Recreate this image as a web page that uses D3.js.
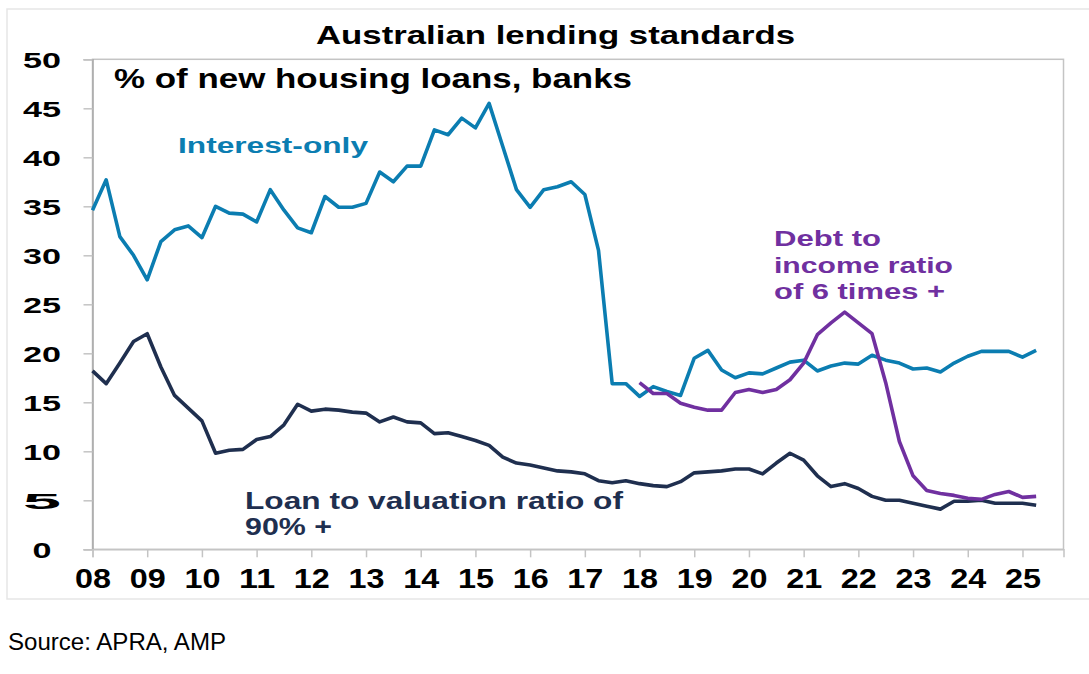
<!DOCTYPE html>
<html>
<head>
<meta charset="utf-8">
<script src="https://cdn.jsdelivr.net/npm/d3@7.9.0/dist/d3.min.js"></script>
<style>
  body { margin: 0; background: #fff; }
  svg { display: block; }
</style>
</head>
<body>
<svg id="chart" width="1089" height="674"></svg>
<script>
// quarterly series, first point = 2008 Q1
const interestOnly = [34.6, 37.7, 31.9, 30.0, 27.5, 31.4, 32.6, 33.0, 31.8, 35.0,
  34.3, 34.2, 33.4, 36.7, 34.6, 32.8, 32.3, 36.0, 34.9, 34.9,
  35.3, 38.5, 37.5, 39.1, 39.1, 42.8, 42.3, 44.0, 43.0, 45.5,
  41.1, 36.7, 34.9, 36.7, 37.0, 37.5, 36.2, 30.5, 16.9, 16.9,
  15.6, 16.6, 16.1, 15.7, 19.5, 20.3, 18.3, 17.5, 18.0, 17.9,
  18.5, 19.1, 19.3, 18.2, 18.7, 19.0, 18.9, 19.8, 19.3, 19.0,
  18.4, 18.5, 18.1, 19.0, 19.7, 20.2, 20.2, 20.2, 19.6, 20.3];

const lvr90 = [18.2, 16.9, 19.0, 21.2, 22.0, 18.6, 15.7, 14.4, 13.1, 9.8,
  10.1, 10.2, 11.2, 11.5, 12.7, 14.8, 14.1, 14.3, 14.2, 14.0,
  13.9, 13.0, 13.5, 13.0, 12.9, 11.8, 11.9, 11.5, 11.1, 10.6,
  9.4, 8.8, 8.6, 8.3, 8.0, 7.9, 7.7, 7.0, 6.8, 7.0,
  6.7, 6.5, 6.4, 6.9, 7.8, 7.9, 8.0, 8.2, 8.2, 7.7,
  8.8, 9.8, 9.1, 7.5, 6.4, 6.7, 6.2, 5.4, 5.0, 5.0,
  4.7, 4.4, 4.1, 4.9, 4.9, 5.0, 4.7, 4.7, 4.7, 4.5];

// debt to income 6x+ starts 2018 Q1 (quarter index 40)
const dtiStart = 40;
const dti6 = [17.0, 15.9, 15.9, 14.9, 14.5, 14.2, 14.2, 16.0, 16.3, 16.0,
  16.3, 17.3, 19.0, 21.9, 23.1, 24.2, 23.1, 22.0, 17.0, 11.0,
  7.5, 6.0, 5.7, 5.5, 5.2, 5.1, 5.6, 5.9, 5.3, 5.4];

const yearLabels = ['08','09','10','11','12','13','14','15','16','17','18','19','20','21','22','23','24','25'];
const yTicks = [0, 5, 10, 15, 20, 25, 30, 35, 40, 45, 50];

const FONT = "'Liberation Sans', Arial, sans-serif";
const C_IO = '#0b7db1', C_DTI = '#7030a0', C_LVR = '#1f2f4f';

const svg = d3.select('#chart');

// outer light frame
svg.append('rect')
  .attr('x', 7).attr('y', 9).attr('width', 1100).attr('height', 590)
  .attr('fill', 'none').attr('stroke', '#e6e6e6').attr('stroke-width', 1.5);

const x = d3.scaleLinear().domain([0, 71]).range([92.5, 1063.5]);
const y = d3.scaleLinear().domain([0, 50]).range([549.3, 59.3]);

// plot frame
svg.append('rect')
  .attr('x', x(0)).attr('y', y(50))
  .attr('width', x(71) - x(0)).attr('height', y(0) - y(50))
  .attr('fill', 'none').attr('stroke', '#c4c4c4').attr('stroke-width', 1.5);

// y axis
const yAxis = svg.append('g')
  .attr('transform', `translate(${x(0)},0)`)
  .call(d3.axisLeft(y).tickValues(yTicks).tickSize(9).tickPadding(30));
yAxis.select('.domain').attr('stroke', '#a8a8a8').attr('stroke-width', 1.5);
yAxis.selectAll('.tick line').attr('stroke', '#c4c4c4').attr('stroke-width', 1.5);
yAxis.selectAll('.tick text')
  .attr('font-family', FONT).attr('font-weight', 'bold').attr('font-size', 22)
  .attr('fill', '#000').attr('text-anchor', 'middle')
  .attr('x', 42 - x(0)).attr('dy', '0.36em')
  .attr('textLength', d => d === 0 ? 19 : 38).attr('lengthAdjust', 'spacingAndGlyphs');

// x axis, one tick per year (Q1)
const yearIdx = yearLabels.map((d, i) => i * 4);
const xAxis = svg.append('g')
  .attr('transform', `translate(0,${y(0)})`)
  .call(d3.axisBottom(x).tickValues(yearIdx).tickSize(8)
    .tickFormat((d, i) => yearLabels[i]));
xAxis.select('.domain').attr('stroke', '#c4c4c4').attr('stroke-width', 1.5);
xAxis.selectAll('.tick line').attr('stroke', '#c4c4c4').attr('stroke-width', 1.5);
xAxis.selectAll('.tick text')
  .attr('font-family', FONT).attr('font-weight', 'bold').attr('font-size', 28)
  .attr('fill', '#000').attr('y', 39).attr('dy', 0)
  .attr('textLength', 36).attr('lengthAdjust', 'spacingAndGlyphs');

// lines
const line = d3.line().x(d => x(d.i)).y(d => y(d.v));
const series = [
  { vals: lvr90, start: 0, color: C_LVR },
  { vals: interestOnly, start: 0, color: C_IO },
  { vals: dti6, start: dtiStart, color: C_DTI }
];
series.forEach(s => {
  svg.append('path')
    .datum(s.vals.map((v, k) => ({ i: s.start + k, v })))
    .attr('fill', 'none')
    .attr('stroke', s.color)
    .attr('stroke-width', 3.6)
    .attr('stroke-linejoin', 'round')
    .attr('d', line);
});

// texts
function label(txt, lx, ly, size, len, color, extra) {
  const t = svg.append('text')
    .attr('x', lx).attr('y', ly)
    .attr('font-family', FONT).attr('font-weight', 'bold')
    .attr('font-size', size).attr('fill', color)
    .attr('textLength', len).attr('lengthAdjust', 'spacingAndGlyphs')
    .text(txt);
  if (extra) t.attr('text-anchor', extra);
  return t;
}

label('Australian lending standards', 316, 44, 25, 479, '#000');
label('% of new housing loans, banks', 114, 88, 27, 518, '#000');
label('Interest-only', 178, 152.5, 22, 190, C_IO);

label('Debt to', 774, 246, 22, 107, C_DTI);
label('income ratio', 774, 273, 22, 179, C_DTI);
label('of 6 times +', 774, 299, 22, 171, C_DTI);

label('Loan to valuation ratio of', 245, 508.5, 23, 378, C_LVR);
label('90% +', 245, 535, 23, 87, C_LVR);

svg.append('text')
  .attr('x', 8).attr('y', 649.5)
  .attr('font-family', FONT).attr('font-size', 24).attr('fill', '#000')
  .attr('textLength', 218).attr('lengthAdjust', 'spacingAndGlyphs')
  .text('Source: APRA, AMP');
</script>
</body>
</html>
